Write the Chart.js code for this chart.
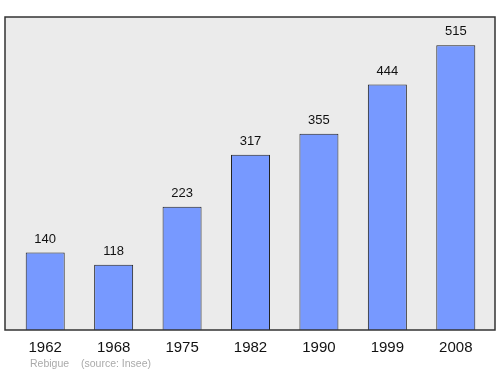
<!DOCTYPE html>
<html>
<head>
<meta charset="utf-8">
<script src="https://cdn.jsdelivr.net/npm/chart.js@4/dist/chart.umd.min.js"></script>
<style>
  html, body { margin: 0; padding: 0; background: #fff; }
  #wrap { width: 500px; height: 374px; position: relative; }
</style>
</head>
<body>
<div id="wrap"><canvas id="popChart"></canvas></div>
<script>
const years = ['1962', '1968', '1975', '1982', '1990', '1999', '2008'];
const population = [140, 118, 223, 317, 355, 444, 515];
const yMax = 566;

const FONT = '"Liberation Sans", Arial, sans-serif';

// frame, value labels and footer
const decor = {
    id: 'decor',
    beforeDraw(chart) {
        const ctx = chart.ctx;
        const area = chart.chartArea;
        ctx.save();
        ctx.fillStyle = '#ebebeb';
        ctx.fillRect(5, area.top, 490, area.bottom - area.top);
        ctx.restore();
    },
    afterDatasetsDraw(chart) {
        const ctx = chart.ctx;
        const area = chart.chartArea;
        ctx.save();
        ctx.strokeStyle = '#333';
        ctx.lineWidth = 1.5;
        ctx.strokeRect(5, area.top, 490, area.bottom - area.top);

        ctx.fillStyle = '#111';
        ctx.font = '13px ' + FONT;
        ctx.textAlign = 'center';
        ctx.textBaseline = 'bottom';
        chart.getDatasetMeta(0).data.forEach((bar, i) => {
            ctx.fillText(String(population[i]), bar.x, bar.y - 7);
        });

        ctx.fillStyle = '#aaa';
        ctx.font = '10.5px ' + FONT;
        ctx.textAlign = 'left';
        ctx.textBaseline = 'middle';
        ctx.fillText('Rebigue', 30, 364);
        ctx.fillText('(source: Insee)', 81, 364);
        ctx.restore();
    }
};

new Chart(document.getElementById('popChart'), {
    type: 'bar',
    data: {
        labels: years,
        datasets: [{
            data: population,
            backgroundColor: '#7799ff',
            borderColor: '#222',
            borderWidth: 1,
            barPercentage: 0.57,
            categoryPercentage: 1
        }]
    },
    options: {
        responsive: true,
        maintainAspectRatio: false,
        animation: false,
        layout: { padding: { left: 11, right: 10, top: 17, bottom: 0 } },
        plugins: { legend: { display: false }, tooltip: { enabled: false } },
        scales: {
            x: {
                grid: { display: false, drawTicks: false },
                border: { display: false },
                ticks: { color: '#111', font: { family: FONT, size: 15 }, padding: 9 },
                afterFit: s => { s.height = 44; }
            },
            y: {
                display: false,
                min: 0,
                max: yMax
            }
        }
    },
    plugins: [decor]
});
</script>
</body>
</html>
